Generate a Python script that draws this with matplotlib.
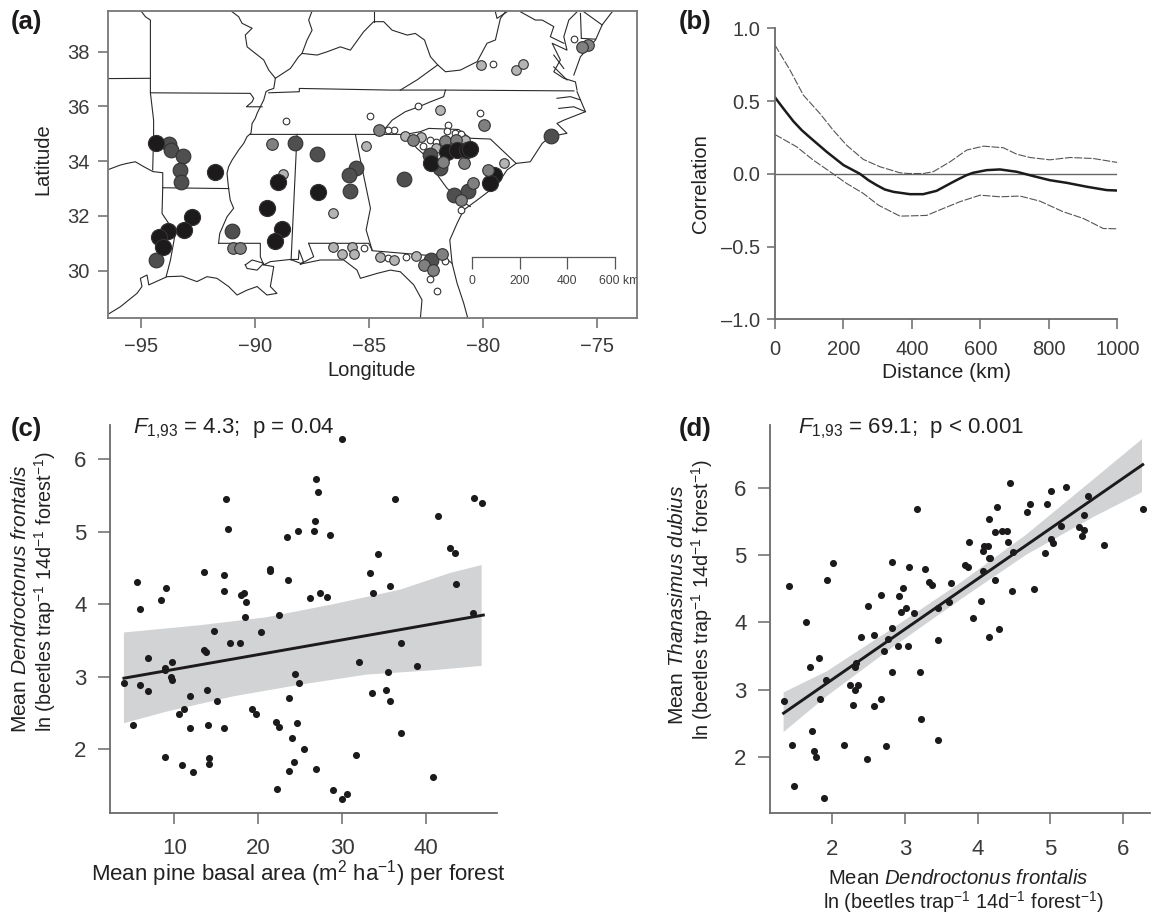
import matplotlib
matplotlib.use('Agg')
from matplotlib import pyplot as plt

plt.rcParams['font.family'] = ['Liberation Sans', 'DejaVu Sans']
plt.rcParams['mathtext.fontset'] = 'custom'
plt.rcParams['mathtext.rm'] = 'Liberation Sans'
plt.rcParams['mathtext.it'] = 'Liberation Sans:italic'
plt.rcParams['mathtext.bf'] = 'Liberation Sans:bold'
plt.rcParams['mathtext.default'] = 'regular'

W, H = 1151, 913
AXIS = '#6a6a6a'
TEXT = '#3a3a3a'

# (a) forests, by class of the synchrony
black_lon = [-94.36, -91.76, -88.99, -89.46, -87.25, -88.82, -89.12, -92.78, -93.10, -93.83, -94.21, -94.02,
             -82.30, -81.58, -81.14, -80.70, -80.56, -79.53, -79.69]
black_lat = [34.65, 33.59, 33.25, 32.30, 32.86, 31.53, 31.07, 31.96, 31.47, 31.45, 31.23, 30.86,
             33.95, 34.35, 34.42, 34.42, 34.45, 33.50, 33.22]
dark_lon = [-93.77, -93.67, -93.17, -93.28, -93.26, -94.34, -91.00, -88.25, -87.30, -85.57, -85.88, -85.82,
            -83.47, -77.03, -81.27, -80.64, -82.27, -81.90, -82.34]
dark_lat = [34.64, 34.41, 34.20, 33.69, 33.25, 30.39, 31.46, 34.65, 34.25, 33.75, 33.48, 32.92,
            33.34, 34.93, 32.78, 32.91, 30.39, 33.76, 34.23]
mid_lon = [-90.98, -90.66, -89.26, -84.58, -83.09, -81.65, -81.20, -80.82, -79.94,
           -82.60, -82.19, -81.80, -80.97, -80.44, -75.38, -75.66]
mid_lat = [30.82, 30.82, 34.62, 35.15, 34.77, 34.75, 34.77, 33.95, 35.33,
           30.22, 30.02, 30.61, 32.57, 33.19, 38.23, 38.18]
mid_top_lon = [-81.77, -79.80]
mid_top_lat = [33.97, 33.67]
light_lon = [-88.79, -85.12, -86.57, -86.58, -85.76, -86.17, -85.66, -84.52, -80.09, -78.55, -78.26, -81.89,
             -83.41, -82.71, -80.79, -82.05, -79.07, -82.93, -83.92]
light_lat = [33.52, 34.57, 32.11, 30.86, 30.88, 30.61, 30.61, 30.51, 37.53, 37.34, 37.54, 35.86,
             34.93, 34.90, 34.77, 34.49, 33.93, 30.55, 30.39]
white_lon = [-88.63, -84.94, -85.22, -79.58, -76.00, -82.84, -80.15, -81.55, -81.58, -81.21, -80.95, -83.89,
             -84.18, -82.34, -82.63, -82.05, -80.97, -81.68, -82.31, -82.02, -83.39, -84.15]
white_lat = [35.47, 35.64, 30.82, 37.56, 38.45, 36.02, 35.77, 35.32, 35.12, 35.02, 34.98, 35.14,
             35.14, 34.77, 34.56, 34.71, 32.22, 30.37, 29.71, 29.26, 30.51, 30.45]

# (a) state lines and coast, (lon, lat)
borders = [
    [(-96.42, 37.02), (-94.62, 37.03)],
    [(-95.00, 39.49), (-94.81, 39.28), (-94.59, 39.16), (-94.59, 36.50), (-94.45, 35.50), (-94.45, 34.96), (-94.49, 33.68)],
    [(-94.59, 36.50), (-90.21, 36.48), (-90.06, 36.30), (-90.13, 36.17), (-90.38, 35.99), (-89.69, 35.99)],
    [(-96.42, 33.70), (-95.91, 33.86), (-95.62, 33.92), (-95.25, 33.98), (-94.88, 33.80), (-94.48, 33.62), (-94.05, 33.58), (-94.05, 33.03)],
    [(-94.05, 33.03), (-91.16, 33.00)],
    [(-94.05, 33.03), (-94.08, 32.09), (-93.79, 31.73), (-93.50, 31.36), (-93.60, 30.90), (-93.71, 30.39), (-93.90, 29.78)],
    [(-96.42, 28.42), (-95.91, 28.68), (-95.18, 29.17), (-94.96, 29.42), (-95.03, 29.72), (-94.74, 29.84), (-94.66, 29.48),
     (-93.86, 29.78), (-93.20, 29.80), (-92.55, 29.60), (-92.11, 29.78), (-91.67, 29.72), (-91.16, 29.42), (-90.79, 29.11),
     (-90.35, 29.29), (-89.91, 29.42), (-89.48, 29.11), (-89.04, 29.17), (-89.33, 29.42), (-89.18, 30.15), (-89.62, 30.21),
     (-89.33, 30.33), (-88.45, 30.41), (-88.01, 30.27)],
    [(-88.42, 30.41), (-88.10, 30.41), (-88.07, 30.75), (-87.88, 30.33), (-88.01, 30.24)],
    [(-90.43, 30.21), (-90.13, 30.39), (-89.62, 30.27), (-89.91, 30.02), (-90.35, 30.08), (-90.43, 30.21)],
    [(-88.01, 30.24), (-87.14, 30.39), (-86.11, 30.39), (-85.53, 30.02), (-85.38, 29.72), (-84.65, 29.90), (-84.07, 30.02),
     (-83.63, 29.96), (-83.04, 29.48), (-82.68, 28.93), (-82.75, 28.26)],
    [(-91.60, 31.00), (-89.77, 31.00), (-89.77, 30.51), (-89.62, 30.21)],
    [(-91.16, 33.00), (-91.09, 32.58), (-90.94, 32.28), (-91.23, 31.97), (-91.55, 31.36), (-91.60, 31.00)],
    [(-91.16, 33.00), (-91.20, 33.31), (-91.23, 33.56), (-91.16, 33.80), (-91.01, 34.04), (-90.86, 34.23), (-90.72, 34.41),
     (-90.50, 34.65), (-90.35, 34.90), (-90.18, 35.02), (-90.13, 35.38), (-89.99, 35.57), (-89.91, 35.75), (-89.77, 35.99),
     (-89.62, 36.24), (-89.52, 36.54), (-89.40, 36.60), (-89.18, 36.66), (-89.11, 37.03), (-89.40, 37.33), (-89.62, 37.70),
     (-90.35, 38.18), (-90.43, 38.61), (-90.13, 38.86), (-90.57, 39.04), (-90.72, 39.28), (-91.05, 39.49)],
    [(-89.11, 37.03), (-88.45, 37.39), (-88.09, 37.82), (-87.94, 37.94), (-87.28, 37.88), (-86.84, 38.00), (-86.26, 38.18),
     (-85.82, 38.06), (-85.24, 38.73), (-84.80, 39.10), (-84.36, 39.10), (-83.99, 38.79), (-83.33, 38.61), (-82.97, 38.67),
     (-82.57, 38.43), (-82.31, 37.82), (-81.99, 37.52), (-81.65, 37.27), (-81.00, 37.33), (-80.26, 37.64), (-79.83, 38.31),
     (-79.46, 38.43), (-79.24, 39.22), (-79.02, 39.46)],
    [(-87.50, 39.49), (-87.65, 39.16), (-87.50, 38.79), (-87.72, 38.43), (-87.94, 37.94)],
    [(-84.80, 39.49), (-84.80, 39.10)],
    [(-89.40, 36.50), (-88.06, 36.54), (-88.06, 36.66), (-84.07, 36.60), (-83.63, 36.60), (-81.65, 36.60), (-76.02, 36.57)],
    [(-83.63, 36.60), (-82.90, 36.97), (-81.99, 37.52)],
    [(-81.65, 36.60), (-81.73, 36.36), (-82.31, 36.17), (-82.82, 35.99), (-83.41, 35.81), (-83.99, 35.50), (-84.29, 35.20), (-84.58, 34.98)],
    [(-90.21, 34.98), (-83.41, 34.98), (-82.90, 34.47), (-82.31, 34.04), (-81.95, 33.43), (-81.58, 33.01), (-81.00, 32.58), (-80.56, 32.34)],
    [(-83.41, 34.98), (-82.75, 35.08), (-82.38, 35.20), (-81.07, 35.16), (-80.56, 34.84), (-79.68, 34.81), (-78.55, 33.92)],
    [(-80.67, 28.26), (-80.85, 28.81), (-81.14, 29.54), (-81.36, 30.27), (-81.46, 31.12), (-81.14, 31.73), (-80.85, 32.22),
     (-80.26, 32.58), (-79.39, 33.13), (-78.95, 33.68), (-78.55, 33.92), (-77.93, 33.98), (-77.41, 34.65), (-77.05, 34.90),
     (-76.32, 35.02), (-76.76, 35.38), (-76.46, 35.50), (-75.51, 35.81), (-75.73, 36.24), (-75.88, 36.54)],
    [(-76.76, 36.30), (-76.17, 36.36), (-75.73, 36.24)],
    [(-76.68, 35.93), (-76.02, 35.99), (-75.51, 35.81)],
    [(-75.88, 36.60), (-75.95, 36.90), (-76.46, 37.03), (-76.90, 37.27), (-76.61, 37.70), (-76.97, 38.31), (-76.32, 38.06),
     (-76.46, 38.55), (-76.24, 39.16), (-75.88, 39.46)],
    [(-76.90, 37.88), (-76.46, 37.39)],
    [(-76.90, 37.45), (-76.32, 36.97)],
    [(-76.02, 37.15), (-75.73, 37.82), (-75.07, 38.43), (-74.78, 38.98), (-74.34, 39.46)],
    [(-75.69, 38.49), (-75.07, 38.46)],
    [(-75.69, 38.49), (-75.73, 39.40)],
    [(-75.58, 39.46), (-74.78, 38.98)],
    [(-78.36, 39.46), (-77.71, 39.16), (-77.41, 39.16), (-76.90, 38.92), (-77.05, 38.55), (-76.46, 38.31)],
    [(-79.46, 39.46), (-79.39, 39.22), (-78.95, 39.46)],
    [(-85.60, 34.98), (-85.38, 34.04), (-84.94, 32.28), (-85.13, 31.49), (-84.87, 30.76)],
    [(-84.87, 30.73), (-81.73, 30.51), (-81.36, 30.27)],
    [(-88.16, 34.98), (-88.42, 30.39)],
    [(-87.65, 31.00), (-85.02, 31.00), (-84.87, 30.76)],
    [(-87.65, 31.00), (-87.43, 30.51), (-88.01, 30.24)],
]

lon_ticks = [-95, -90, -85, -80, -75]
lat_ticks = [30, 32, 34, 36, 38]
scale_lon = [-80.48, -78.39, -76.30, -74.23]
scale_labels = ['0', '200', '400', '600 km']

# (b) spatial correlogram
dist = [0, 24, 54, 78, 102, 151, 200, 248, 273, 297, 321, 346, 394, 433, 472, 521, 540, 560, 579, 618, 657, 706, 755, 803,
        852, 911, 969, 1000]
corr = [.525, .45, .36, .30, .25, .151, .06, 0.0, -.044, -.078, -.108, -.124, -.14, -.14, -.117, -.055, -.032, -.009, .007,
        .025, .03, .014, -.016, -.044, -.062, -.089, -.112, -.115]
upper_d = [0, 44, 83, 131, 170, 209, 258, 307, 365, 389, 433, 462, 511, 560, 609, 667, 706, 745, 803, 862, 930, 1000]
upper_c = [.884, .712, .54, .415, .30, .197, .099, .048, .007, .002, .002, .014, .082, .163, .19, .179, .135, .112,
           .096, .112, .105, .078]
lower_d = [0, 63, 112, 161, 209, 258, 302, 365, 443, 492, 540, 599, 657, 716, 774, 842, 901, 959, 1000]
lower_c = [.27, .186, .094, .014, -.066, -.135, -.215, -.291, -.286, -.238, -.192, -.147, -.158, -.153, -.188, -.261,
           -.307, -.376, -.378]

# (c) pine basal area vs D. frontalis
basal = [29.98, 26.85, 27.16, 16.16, 36.26, 45.68, 46.67, 41.43, 16.44, 26.73, 24.70, 26.61, 23.43, 28.55, 42.82, 43.41,
         34.28, 21.44, 21.44, 33.28, 13.58, 15.88, 23.55, 5.59, 9.01, 15.88, 35.71, 43.53, 33.72, 17.95, 18.30, 27.40,
         28.16, 26.13, 8.41, 18.58, 5.87, 22.44, 18.42, 45.56, 14.73, 20.29, 16.60, 17.87, 36.98, 13.58, 13.73, 6.86,
         9.72, 32.01, 38.88, 8.89, 8.89, 9.56, 9.72, 24.42, 24.86, 35.43, 4.00, 5.87, 6.86, 13.85, 35.27, 33.56, 11.87,
         23.71, 15.13, 35.71, 11.15, 19.30, 10.56, 19.73, 22.16, 22.44, 24.58, 5.03, 11.87, 13.97, 15.88, 36.98, 23.98,
         25.45, 8.89, 14.17, 14.17, 10.87, 12.19, 24.30, 23.71, 26.85, 31.69, 22.28, 28.87, 30.58, 29.98, 40.83]
front_c = [6.28, 5.73, 5.54, 5.45, 5.45, 5.47, 5.39, 5.22, 5.03, 5.14, 5.01, 5.01, 4.92, 4.96, 4.78, 4.71,
           4.69, 4.49, 4.46, 4.43, 4.45, 4.40, 4.33, 4.30, 4.23, 4.18, 4.25, 4.28, 4.15, 4.13, 4.15, 4.15,
           4.10, 4.08, 4.06, 4.03, 3.93, 3.85, 3.83, 3.88, 3.63, 3.62, 3.47, 3.46, 3.47, 3.37, 3.34, 3.26,
           3.20, 3.20, 3.15, 3.12, 3.09, 3.00, 2.96, 3.04, 2.92, 3.06, 2.91, 2.89, 2.81, 2.82, 2.82, 2.78, 2.74,
           2.71, 2.66, 2.66, 2.56, 2.56, 2.48, 2.48, 2.38, 2.31, 2.36, 2.33, 2.30, 2.33, 2.30, 2.23, 2.15,
           2.01, 1.90, 1.88, 1.80, 1.78, 1.69, 1.82, 1.70, 1.73, 1.92, 1.45, 1.44, 1.39, 1.32, 1.62]
fit_c_x = [4.0, 46.83]
fit_c_y = [2.98, 3.85]
upper_c_x = [4.0, 13.06, 21.0, 28.95, 36.9, 42.86, 46.63]
upper_c_y = [3.61, 3.71, 3.82, 4.00, 4.20, 4.43, 4.54]
lower_c_x = [4.0, 9.09, 17.03, 24.98, 32.92, 40.87, 46.63]
lower_c_y = [2.36, 2.52, 2.73, 2.89, 3.03, 3.09, 3.15]

# (d) D. frontalis vs T. dubius
front_d = [4.45, 5.21, 5.01, 5.52, 4.95, 4.72, 4.68, 4.27, 6.27, 3.17, 4.16, 5.46, 4.34, 4.40, 4.24, 5.14, 5.39, 5.46,
           5.44, 5.01, 5.03, 5.74, 3.88, 4.42, 4.09, 4.14, 4.07, 4.49, 4.93, 4.16, 4.17, 2.01, 2.82, 3.06, 3.83, 3.86,
           3.27, 4.07, 1.40, 1.93, 3.33, 3.37, 3.63, 4.24, 2.97, 4.47, 4.77, 2.67, 2.92, 4.04, 3.61, 2.49, 3.02, 3.46,
           2.94, 3.12, 3.94, 1.64, 2.82, 4.29, 2.39, 2.57, 4.16, 2.77, 3.46, 2.90, 3.04, 2.71, 1.82, 1.70, 2.31, 2.33,
           2.82, 3.20, 1.91, 2.24, 2.36, 2.31, 1.83, 1.33, 2.67, 2.29, 2.57, 3.22, 1.72, 3.46, 1.45, 2.16, 2.74, 1.75,
           1.78, 2.48, 1.47, 1.88]
dubius = [6.08, 6.02, 5.96, 5.88, 5.76, 5.76, 5.65, 5.72, 5.69, 5.69, 5.54, 5.60, 5.36, 5.36, 5.34, 5.44, 5.42, 5.38,
          5.29, 5.24, 5.18, 5.16, 5.20, 5.20, 5.14, 5.14, 5.07, 5.05, 5.04, 4.96, 4.96, 4.88, 4.90, 4.83, 4.86, 4.83,
          4.79, 4.77, 4.54, 4.63, 4.61, 4.56, 4.59, 4.63, 4.52, 4.47, 4.50, 4.41, 4.40, 4.32, 4.31, 4.24, 4.22, 4.22,
          4.16, 4.14, 4.07, 4.00, 3.92, 3.90, 3.79, 3.81, 3.79, 3.75, 3.74, 3.65, 3.65, 3.58, 3.47, 3.34, 3.34, 3.39,
          3.27, 3.27, 3.15, 3.07, 3.07, 3.00, 2.86, 2.83, 2.86, 2.77, 2.75, 2.57, 2.38, 2.25, 2.18, 2.18, 2.16, 2.09,
          2.00, 1.97, 1.57, 1.38]
fit_d_x = [1.33, 6.27]
fit_d_y = [2.65, 6.35]
band_d_x = [1.33, 1.92, 2.84, 3.76, 4.67, 5.59, 6.26]
upper_d_y = [2.96, 3.27, 3.92, 4.59, 5.31, 6.13, 6.73]
lower_d_y = [2.37, 2.90, 3.64, 4.34, 5.01, 5.57, 5.94]


def make_axes(fig, left, top, right, bottom):
    return fig.add_axes([left / W, 1 - bottom / H, (right - left) / W, (bottom - top) / H])


def style_axes(ax, fs=16, xlen=8, ylen=9, xpad=10.5, ypad=8):
    for side in ['top', 'right']:
        ax.spines[side].set_visible(False)
    for side in ['left', 'bottom']:
        ax.spines[side].set_color(AXIS)
        ax.spines[side].set_linewidth(1.3)
    ax.tick_params(axis='x', length=xlen, width=1.1, color=AXIS, labelcolor=TEXT, labelsize=fs, pad=xpad)
    ax.tick_params(axis='y', length=ylen, width=1.1, color=AXIS, labelcolor=TEXT, labelsize=fs, pad=ypad)


def put(fig, x, y, s, **kw):
    kw.setdefault('color', '#222222')
    kw.setdefault('ha', 'center')
    kw.setdefault('va', 'center')
    fig.text(x / W, 1 - y / H, s, **kw)


fig = plt.figure(figsize=(W / 100, H / 100), dpi=100, facecolor='white')

# panel a
ax = make_axes(fig, 108, 11, 637, 318)
ax.set_xlim(-96.45, -73.25)
ax.set_ylim(28.27, 39.49)
for line in borders:
    ax.plot([p[0] for p in line], [p[1] for p in line], color='#2a2a2a', lw=0.8, zorder=1)
edge = '#333333'
ax.scatter(white_lon, white_lat, s=23, c='white', edgecolors=edge, linewidths=0.8, zorder=2)
ax.scatter(light_lon, light_lat, s=48, c='#b4b4b4', edgecolors=edge, linewidths=0.8, zorder=3)
ax.scatter(dark_lon, dark_lat, s=112, c='#4f4f4f', edgecolors=edge, linewidths=0.8, zorder=4)
ax.scatter(mid_lon, mid_lat, s=70, c='#808080', edgecolors=edge, linewidths=0.8, zorder=5)
ax.scatter(black_lon, black_lat, s=135, c='#1c1a1b', edgecolors=edge, linewidths=0.8, zorder=6)
ax.scatter(mid_top_lon, mid_top_lat, s=70, c='#808080', edgecolors=edge, linewidths=0.8, zorder=7)
ax.plot([scale_lon[0], scale_lon[-1]], [30.51, 30.51], color='#555555', lw=0.9, zorder=2)
ax.vlines(scale_lon, 30.06, 30.51, color='#555555', lw=0.9, zorder=2)
for i in range(len(scale_lon)):
    if i < 3:
        ax.text(scale_lon[i], 29.62, scale_labels[i], fontsize=8.8, color='#444444', ha='center', va='center')
    else:
        ax.text(scale_lon[i] - 0.7, 29.62, scale_labels[i], fontsize=8.8, color='#444444', ha='left', va='center',
                clip_on=True)
ax.set_xticks(lon_ticks)
ax.set_yticks(lat_ticks)
ax.tick_params(length=7, width=1.1, color=AXIS, labelcolor=TEXT, labelsize=14.5)
ax.tick_params(axis='x', pad=7)
ax.tick_params(axis='y', pad=6.5)
for s in ax.spines.values():
    s.set_color('#777777')
    s.set_linewidth(1.3)
put(fig, 372, 371, 'Longitude', fontsize=14.5)
put(fig, 43, 159, 'Latitude', fontsize=14.5, rotation=90)

# panel b
ax = make_axes(fig, 775, 28.3, 1117.3, 319.3)
ax.set_xlim(0, 1000)
ax.set_ylim(-1, 1)
ax.axhline(0, color='#666666', lw=1.0, zorder=1)
ax.plot(upper_d, upper_c, color='#555555', lw=0.8, dashes=(7, 1.5))
ax.plot(lower_d, lower_c, color='#555555', lw=0.8, dashes=(7, 1.5))
ax.plot(dist, corr, color='#1c1a1b', lw=1.8)
ax.set_xticks([0, 200, 400, 600, 800, 1000])
ax.set_yticks([-1.0, -0.5, 0.0, 0.5, 1.0])
ax.set_yticklabels(['\u20131.0', '\u20130.5', '0.0', '0.5', '1.0'])
style_axes(ax, fs=14.5, xlen=7, ylen=6, xpad=8, ypad=4.5)
put(fig, 946, 373, 'Distance (km)', fontsize=15)
put(fig, 701, 184, 'Correlation', fontsize=14.5, rotation=90)

# panel c
ax = make_axes(fig, 110, 425, 497, 812.7)
ax.set_xlim(2.34, 48.46)
ax.set_ylim(1.126, 6.47)
ax.fill(upper_c_x + lower_c_x[::-1], upper_c_y + lower_c_y[::-1], color='#d1d3d4', lw=0, zorder=1)
ax.plot(fit_c_x, fit_c_y, color='#1c1a1b', lw=2.1, zorder=2)
ax.scatter(basal, front_c, s=26, c='#1c1a1b', linewidths=0, zorder=3)
ax.set_xticks([10, 20, 30, 40])
ax.set_yticks([2, 3, 4, 5, 6])
style_axes(ax)
put(fig, 298, 874, r'Mean pine basal area (m$^{2}$ ha$^{-1}$) per forest', fontsize=16)
put(fig, 21, 599, r'Mean $\mathit{Dendroctonus\ frontalis}$', fontsize=15, rotation=90)
put(fig, 45, 592, r'ln (beetles trap$^{-1}$ 14d$^{-1}$ forest$^{-1}$)', fontsize=14.2, rotation=90)
put(fig, 133, 429, r'$\mathit{F}_{\mathit{1{,}93}}$ = 4.3;  p = 0.04', fontsize=16, ha='left')

# panel d
ax = make_axes(fig, 770, 425, 1150, 813)
ax.set_xlim(1.143, 6.37)
ax.set_ylim(1.164, 6.94)
ax.fill(band_d_x + band_d_x[::-1], upper_d_y + lower_d_y[::-1], color='#d1d3d4', lw=0, zorder=1)
ax.plot(fit_d_x, fit_d_y, color='#1c1a1b', lw=2.1, zorder=2)
ax.scatter(front_d, dubius, s=26, c='#1c1a1b', linewidths=0, zorder=3)
ax.set_xticks([2, 3, 4, 5, 6])
ax.set_yticks([2, 3, 4, 5, 6])
style_axes(ax)
put(fig, 958, 878, r'Mean $\mathit{Dendroctonus\ frontalis}$', fontsize=14.6)
put(fig, 963, 902, r'ln (beetles trap$^{-1}$ 14d$^{-1}$ forest$^{-1}$)', fontsize=14.2)
put(fig, 678, 605, r'Mean $\mathit{Thanasimus\ dubius}$', fontsize=15, rotation=90)
put(fig, 702, 600, r'ln (beetles trap$^{-1}$ 14d$^{-1}$ forest$^{-1}$)', fontsize=14.2, rotation=90)
put(fig, 798, 429, r'$\mathit{F}_{\mathit{1{,}93}}$ = 69.1;  p < 0.001', fontsize=16, ha='left')

# panel letters
for x, y, s in [(26, 22, '(a)'), (695, 22, '(b)'), (26, 429, '(c)'), (695, 429, '(d)')]:
    put(fig, x, y, s, fontsize=18.5, fontweight='bold', color='#1c1a1b')

fig.savefig('out.png', dpi=100, facecolor='white')
